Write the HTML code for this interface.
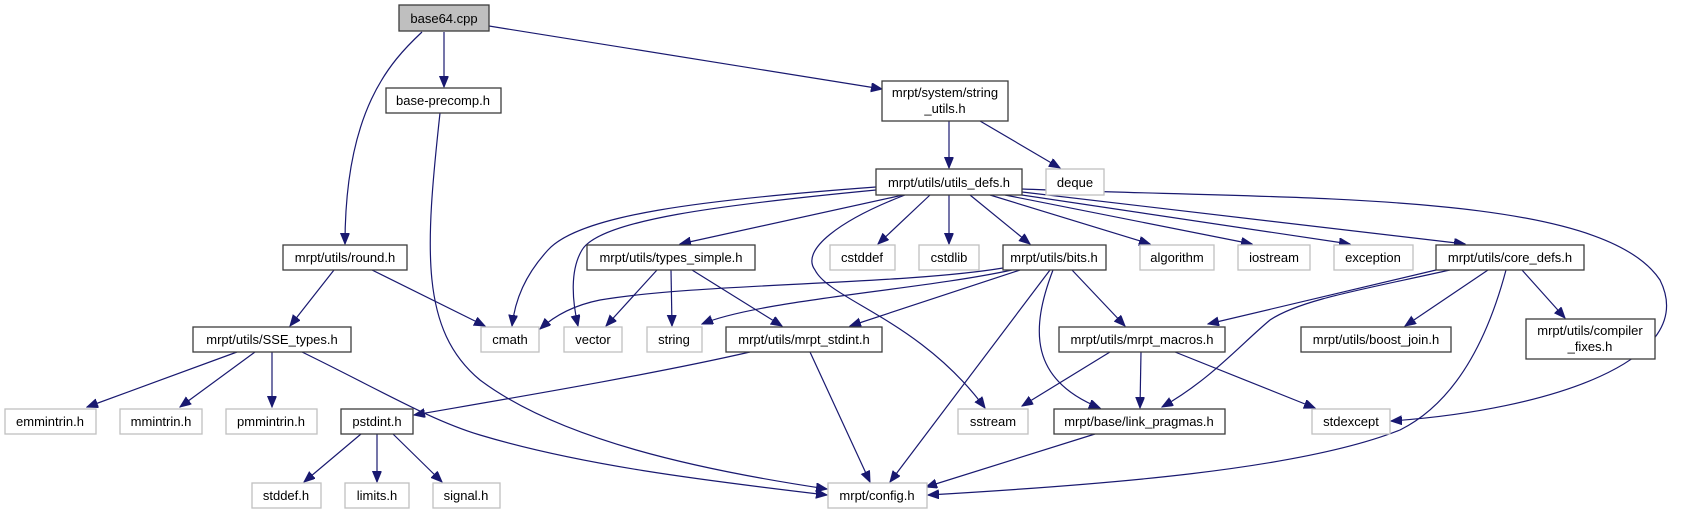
<!DOCTYPE html>
<html><head><meta charset="utf-8"><style>
html,body{margin:0;padding:0;background:#fff;}
svg{display:block;}
text{font-family:"Liberation Sans",sans-serif;font-size:13px;fill:#000;}
.b{fill:#fff;stroke:#3c3c3c;stroke-width:1.3;}
.g{fill:#fff;stroke:#c0c0c0;stroke-width:1.3;}
.e{fill:none;stroke:#191970;stroke-width:1.2;}
</style></head><body>
<svg width="1683" height="515" viewBox="0 0 1683 515" xmlns="http://www.w3.org/2000/svg">
<defs>
<marker id="a" markerUnits="userSpaceOnUse" markerWidth="12" markerHeight="10" refX="11" refY="4.5" orient="auto">
<path d="M0,0 L11,4.5 L0,9 z" fill="#191970" stroke="#191970"/>
</marker>
</defs>
<g marker-end="url(#a)">
<path class="e" d="M422,32 C390,62 345,110 345,244"/>
<path class="e" d="M444,32 L444,87"/>
<path class="e" d="M489,26 L882,89"/>
<path class="e" d="M440,113 C425,250 420,330 480,380 C560,440 700,470 827,489"/>
<path class="e" d="M949,121 L949,168"/>
<path class="e" d="M980,121 L1060,168"/>
<path class="e" d="M876,187 C700,200 580,215 548,250 C525,275 515,300 512,326"/>
<path class="e" d="M876,190 C720,205 600,220 582,250 C570,270 572,300 578,326"/>
<path class="e" d="M903,195 L680,244"/>
<path class="e" d="M905,195 C840,220 800,250 815,270 C830,300 920,320 985,408"/>
<path class="e" d="M930,195 L878,244"/>
<path class="e" d="M949,195 L949,244"/>
<path class="e" d="M970,195 L1030,244"/>
<path class="e" d="M990,195 L1150,244"/>
<path class="e" d="M1005,195 L1252,244"/>
<path class="e" d="M1015,194 L1350,244"/>
<path class="e" d="M1022,192 L1465,244"/>
<path class="e" d="M1022,189 C1300,200 1600,190 1660,280 C1700,360 1550,410 1391,421"/>
<path class="e" d="M334,270 L290,326"/>
<path class="e" d="M372,270 L485,326"/>
<path class="e" d="M657,270 L606,326"/>
<path class="e" d="M671,270 L672,326"/>
<path class="e" d="M692,270 L782,326"/>
<path class="e" d="M1003,268 C900,285 700,283 600,300 C570,306 552,318 540,329"/>
<path class="e" d="M1012,270 C920,290 760,300 702,324"/>
<path class="e" d="M1020,270 L850,326"/>
<path class="e" d="M1050,270 L890,482"/>
<path class="e" d="M1053,270 C1030,330 1030,380 1100,408"/>
<path class="e" d="M1072,270 L1125,326"/>
<path class="e" d="M1436,270 L1208,324"/>
<path class="e" d="M1450,270 C1360,290 1300,300 1270,320 C1240,345 1210,380 1162,407"/>
<path class="e" d="M1488,270 L1405,326"/>
<path class="e" d="M1522,270 L1565,318"/>
<path class="e" d="M1506,270 C1490,330 1460,400 1400,430 C1300,470 1100,485 928,495"/>
<path class="e" d="M1141,352 L1140,408"/>
<path class="e" d="M1110,352 L1022,406"/>
<path class="e" d="M1175,352 L1315,408"/>
<path class="e" d="M1095,434 L926,487"/>
<path class="e" d="M810,352 L870,482"/>
<path class="e" d="M750,352 C650,375 500,400 414,415"/>
<path class="e" d="M302,352 C380,390 430,420 480,435 C580,465 700,480 827,495"/>
<path class="e" d="M237,352 L87,407"/>
<path class="e" d="M255,352 L180,407"/>
<path class="e" d="M272,352 L272,407"/>
<path class="e" d="M361,434 L304,482"/>
<path class="e" d="M377,434 L377,482"/>
<path class="e" d="M393,434 L442,482"/>
</g>
<g text-anchor="middle">
<rect x="399" y="5" width="90" height="26" fill="#bfbfbf" stroke="#3c3c3c" stroke-width="1.3"/><text x="444" y="23">base64.cpp</text>
<rect class="b" x="386" y="88" width="115" height="25"/><text x="443" y="105">base-precomp.h</text>
<rect class="b" x="882" y="81" width="126" height="40"/><text x="945" y="97">mrpt/system/string</text><text x="945" y="113">_utils.h</text>
<rect class="b" x="876" y="169" width="146" height="26"/><text x="949" y="187">mrpt/utils/utils_defs.h</text>
<rect class="g" x="1046" y="169" width="58" height="26"/><text x="1075" y="187">deque</text>
<rect class="b" x="283" y="245" width="124" height="25"/><text x="345" y="262">mrpt/utils/round.h</text>
<rect class="b" x="587" y="245" width="168" height="25"/><text x="671" y="262">mrpt/utils/types_simple.h</text>
<rect class="g" x="830" y="245" width="65" height="25"/><text x="862" y="262">cstddef</text>
<rect class="g" x="919" y="245" width="60" height="25"/><text x="949" y="262">cstdlib</text>
<rect class="b" x="1003" y="245" width="103" height="25"/><text x="1054" y="262">mrpt/utils/bits.h</text>
<rect class="g" x="1140" y="245" width="74" height="25"/><text x="1177" y="262">algorithm</text>
<rect class="g" x="1238" y="245" width="72" height="25"/><text x="1274" y="262">iostream</text>
<rect class="g" x="1334" y="245" width="79" height="25"/><text x="1373" y="262">exception</text>
<rect class="b" x="1436" y="245" width="148" height="25"/><text x="1510" y="262">mrpt/utils/core_defs.h</text>
<rect class="b" x="193" y="327" width="158" height="25"/><text x="272" y="344">mrpt/utils/SSE_types.h</text>
<rect class="g" x="481" y="327" width="58" height="25"/><text x="510" y="344">cmath</text>
<rect class="g" x="564" y="327" width="58" height="25"/><text x="593" y="344">vector</text>
<rect class="g" x="647" y="327" width="55" height="25"/><text x="674" y="344">string</text>
<rect class="b" x="726" y="327" width="156" height="25"/><text x="804" y="344">mrpt/utils/mrpt_stdint.h</text>
<rect class="b" x="1059" y="327" width="166" height="25"/><text x="1142" y="344">mrpt/utils/mrpt_macros.h</text>
<rect class="b" x="1301" y="327" width="150" height="25"/><text x="1376" y="344">mrpt/utils/boost_join.h</text>
<rect class="b" x="1526" y="319" width="129" height="40"/><text x="1590" y="335">mrpt/utils/compiler</text><text x="1590" y="351">_fixes.h</text>
<rect class="g" x="5" y="409" width="91" height="25"/><text x="50" y="426">emmintrin.h</text>
<rect class="g" x="120" y="409" width="82" height="25"/><text x="161" y="426">mmintrin.h</text>
<rect class="g" x="226" y="409" width="91" height="25"/><text x="271" y="426">pmmintrin.h</text>
<rect class="b" x="341" y="409" width="72" height="25"/><text x="377" y="426">pstdint.h</text>
<rect class="g" x="958" y="409" width="70" height="25"/><text x="993" y="426">sstream</text>
<rect class="b" x="1054" y="409" width="171" height="25"/><text x="1139" y="426">mrpt/base/link_pragmas.h</text>
<rect class="g" x="1312" y="409" width="78" height="25"/><text x="1351" y="426">stdexcept</text>
<rect class="g" x="252" y="483" width="69" height="25"/><text x="286" y="500">stddef.h</text>
<rect class="g" x="345" y="483" width="64" height="25"/><text x="377" y="500">limits.h</text>
<rect class="g" x="433" y="483" width="67" height="25"/><text x="466" y="500">signal.h</text>
<rect class="g" x="828" y="483" width="99" height="25"/><text x="877" y="500">mrpt/config.h</text>
</g>
</svg>
</body></html>
